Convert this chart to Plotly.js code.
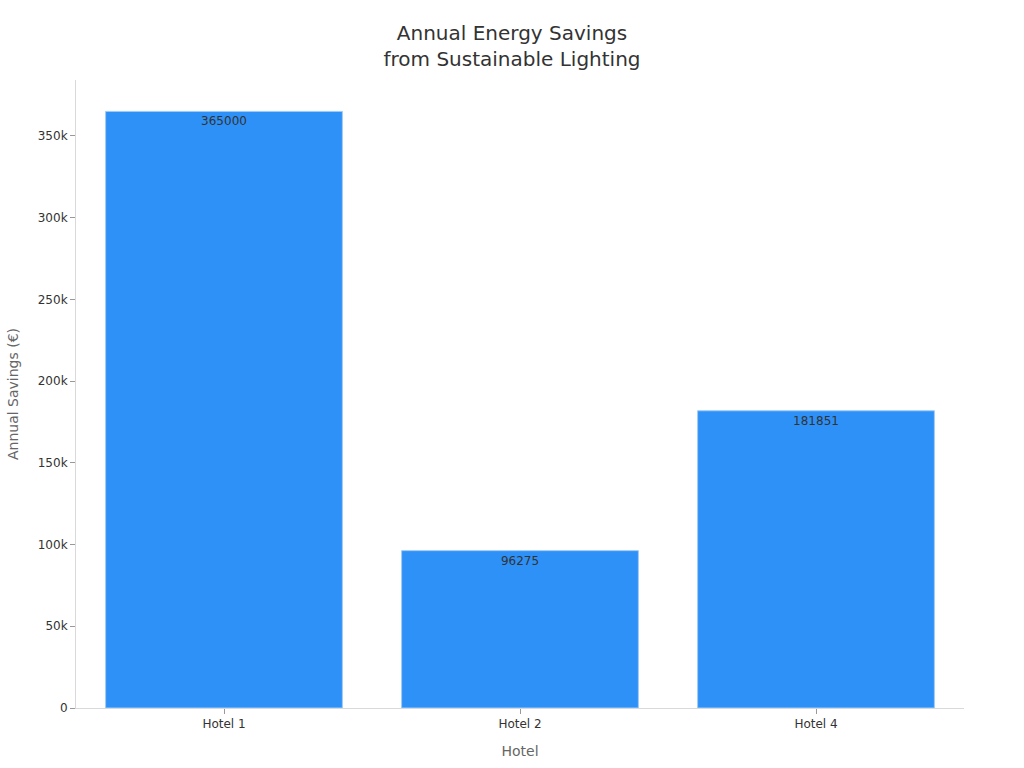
<!DOCTYPE html>
<html>
<head>
<meta charset="utf-8">
<script src="https://cdn.plot.ly/plotly-3.0.1.min.js"></script>
<style>body{margin:0;}#plot{width:1024px;height:768px;}</style>
</head>
<body>
<div id="plot"></div>
<script>
var hotels = ["Hotel 1", "Hotel 2", "Hotel 4"];
var savings = [365000, 96275, 181851];

var trace = {
    x: hotels,
    y: savings,
    type: "bar",
    text: savings.map(function (v) { return String(v); }),
    textposition: "inside",
    insidetextanchor: "end",
    textfont: {color: "#333333", size: 12},
    marker: {color: "#2E91F7", line: {color: "#9FCBF7", width: 1}},
    hoverinfo: "x+y"
};

var layout = {
    width: 1024,
    height: 768,
    font: {family: "DejaVu Sans, sans-serif", color: "#333333"},
    title: {text: "Annual Energy Savings<br>from Sustainable Lighting", x: 0.5, y: 0.948, yanchor: "top", font: {size: 20, color: "#333333"}},
    margin: {l: 76, r: 60, t: 80, b: 60},
    bargap: 0.2,
    plot_bgcolor: "white",
    paper_bgcolor: "white",
    xaxis: {
        title: {text: "Hotel", font: {size: 14, color: "#666666"}, standoff: 15},
        showline: true, linecolor: "#d9d9d9", ticks: "outside", tickcolor: "#999999", ticklen: 5,
        tickfont: {size: 12}, showgrid: false
    },
    yaxis: {
        title: {text: "Annual Savings (€)", font: {size: 14, color: "#666666"}, standoff: 15},
        showline: true, linecolor: "#d9d9d9", ticks: "outside", tickcolor: "#999999", ticklen: 5,
        tickfont: {size: 12}, showgrid: false, zeroline: false, rangemode: "tozero"
    }
};

Plotly.newPlot("plot", [trace], layout, {displayModeBar: false});
</script>
</body>
</html>
